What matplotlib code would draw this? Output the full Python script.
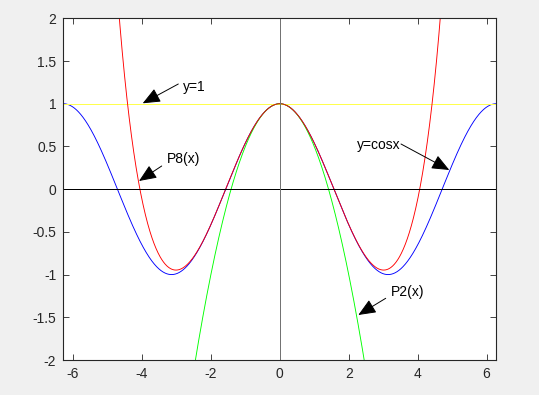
import numpy as np
import matplotlib
matplotlib.use("Agg")
import matplotlib.pyplot as plt

# ---- data ----
x_range = [-2 * np.pi, 2 * np.pi]
y_range = [-2, 2]
p2_coef = [-0.5, 0.0, 1.0]                                   # P2(x) = 1 - x^2/2
p8_coef = [2.9e-5, 0, -1/720, 0, 1/24, 0, -0.5, 0, 1.0]      # red curve
x_ticks = [-6, -4, -2, 0, 2, 4, 6]
y_ticks = [-2, -1.5, -1, -0.5, 0, 0.5, 1, 1.5, 2]
y_tick_labels = ["-2", "-1.5", "-1", "-0.5", "0", "0.5", "1", "1.5", "2"]
labels = ["y=1", "P8(x)", "y=cosx", "P2(x)"]

plt.rcParams['font.family'] = ['Liberation Sans', 'DejaVu Sans']

W, H = 539, 395
fig = plt.figure(figsize=(W / 100, H / 100), dpi=100)
fig.patch.set_facecolor((240/255, 240/255, 240/255))

# axes in pixel coords: left 63.3, right 496.3, top 18.3, bottom 360
l, r, t, b = 63.3, 496.3, 18.3, 360.0
ax = fig.add_axes([l / W, 1 - b / H, (r - l) / W, (b - t) / H])
ax.set_facecolor('white')

LW = 0.6
CW = 0.65
x = np.linspace(x_range[0], x_range[1], 1500)
ax.plot(x, np.cos(x), color=(0, 0, 1), lw=CW)
ax.plot(x_range, [1, 1], color=(1, 1, 0.3), lw=LW, antialiased=False)
ax.plot(x, np.polyval(p2_coef, x), color=(0, 1, 0), lw=CW)
ax.plot(x, np.polyval(p8_coef, x), color=(1, 0, 0), lw=CW)
ax.plot(x_range, [0, 0], color='black', lw=0.72, antialiased=False)
ax.plot([0, 0], y_range, color=(0.45, 0.45, 0.45), lw=LW, antialiased=False)

ax.set_xlim(x_range)
ax.set_ylim(y_range)
ax.set_xticks(x_ticks)
ax.set_xticklabels([str(v) for v in x_ticks])
ax.set_yticks(y_ticks)
ax.set_yticklabels(y_tick_labels)
axc = (0.15, 0.15, 0.15)
for s in ax.spines.values():
    s.set_color(axc)
    s.set_linewidth(0.8)
ax.tick_params(direction='in', top=True, right=True, length=4, width=0.6,
               colors=axc, labelsize=10, pad=5)
for lab in ax.get_xticklabels() + ax.get_yticklabels():
    lab.set_color(axc)

# annotations (figure pixel coords -> figure fraction)
def fp(px, py):
    return (px / W, 1 - py / H)

arrows = [
    # text, text pos (left, center y), tail, head, ha
    (labels[0], (183.3, 86.5), (178.3, 84.0), (142.7, 103.3), 'left'),
    (labels[1], (167.3, 159.3), (161.7, 166.0), (139.0, 181.0), 'left'),
    (labels[2], (401.0, 145.0), (401.0, 144.0), (449.3, 170.0), 'right'),
    (labels[3], (391.0, 291.7), (385.7, 298.3), (358.3, 315.0), 'left'),
]
for txt, tpos, tail, head, ha in arrows:
    fig.text(*fp(*tpos), txt, ha=ha, va='center', fontsize=10, color='black')
    fig.patches.append(matplotlib.patches.FancyArrowPatch(
        fp(*tail), fp(*head), transform=fig.transFigure,
        arrowstyle='-|>,head_length=0.9,head_width=0.38', mutation_scale=12,
        color='black', lw=0.7, shrinkA=0, shrinkB=0))

fig.savefig('out.png', dpi=100, facecolor=fig.get_facecolor())
